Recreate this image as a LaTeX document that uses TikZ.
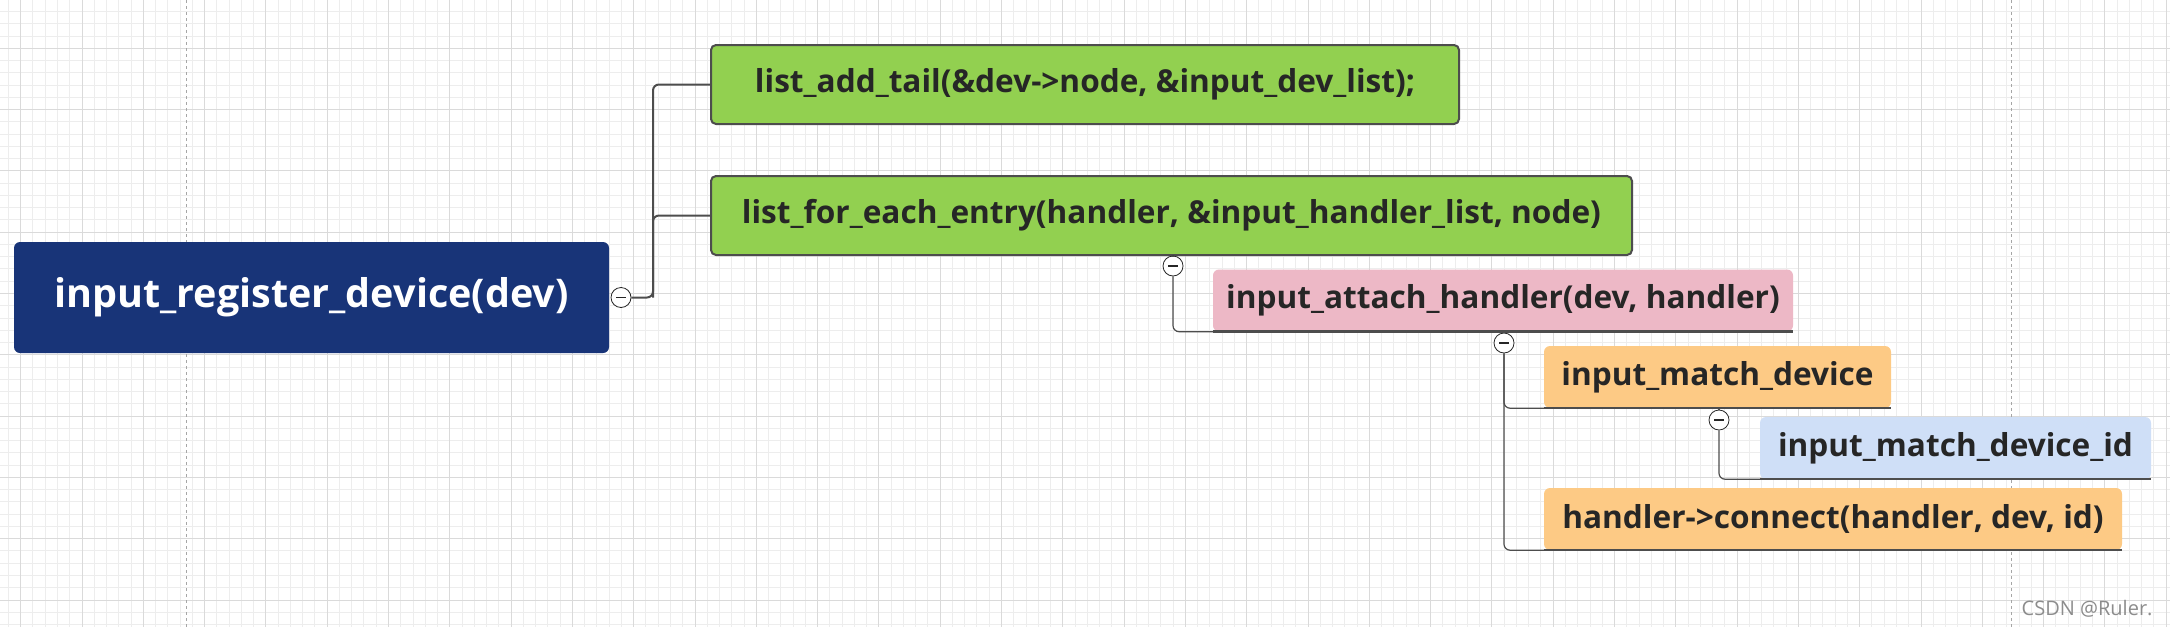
\documentclass[tikz,border=0pt]{standalone}
\usepackage{fontspec}
\setmainfont{Open Sans}
\usetikzlibrary{positioning}

\definecolor{navy}{HTML}{183478}
\definecolor{leafgreen}{HTML}{92D050}
\definecolor{leafpink}{HTML}{EDB8C6}
\definecolor{leaforange}{HTML}{FDCA85}
\definecolor{leafblue}{HTML}{CFDFF7}
\definecolor{edge}{HTML}{4D4D4D}
\definecolor{ink}{HTML}{262626}
\definecolor{gridminor}{HTML}{EDEDED}
\definecolor{gridmajor}{HTML}{DADADA}

\newcommand\rootfont{\fontsize{39.5}{46}\selectfont\bfseries}
\newcommand\boxfont{\fontsize{31.6}{37}\selectfont\bfseries}

\begin{document}
\begin{tikzpicture}[x=1pt,y=-1pt,
			rootbox/.style={rectangle,rounded corners=6pt,fill=navy,text=white,font=\rootfont,minimum width=595pt,minimum height=111pt,inner sep=0},
			greenbox/.style={rectangle,rounded corners=5pt,draw=edge,line width=2pt,fill=leafgreen,text=ink,font=\boxfont,minimum height=79pt,inner sep=0},
			leafbox/.style={rectangle,rounded corners=6pt,text=ink,font=\boxfont,minimum height=62pt,inner sep=0},
			knob/.style={circle,draw=black!85,fill=white,line width=0.8pt,minimum size=20pt,inner sep=0,
				path picture={\draw[line width=1.4pt] ([xshift=-5pt]path picture bounding box.center) -- ([xshift=5pt]path picture bounding box.center);}},
			conn/.style={draw=edge,line width=1.2pt,rounded corners=6pt},
			uline/.style={draw=edge,line width=2.5pt}
		]
		% paper and grid
		\fill[white] (0,0) rectangle (2170,627);
		\useasboundingbox (0,0) rectangle (2170,627);
		\foreach \i in {0,...,178} \draw[gridminor,line width=1pt] (8.44+12.26*\i,0) -- (8.44+12.26*\i,627);
		\foreach \i in {0,...,52} \draw[gridminor,line width=1pt] (0,-0.74+12.26*\i) -- (2170,-0.74+12.26*\i);
		\foreach \i in {0,...,35} \draw[gridmajor,line width=1pt] (20.7+61.3*\i,0) -- (20.7+61.3*\i,627);
		\foreach \i in {0,...,9} \draw[gridmajor,line width=1pt] (0,48.3+61.3*\i) -- (2170,48.3+61.3*\i);
		\draw[black!35,dashed,line width=1pt] (186.3,0) -- (186.3,627);
		\draw[black!35,dashed,line width=1pt] (2011,0) -- (2011,627);

		% boxes
		\node[rootbox]                                     (R)  at (311.5,297.5) {input\_register\_device(dev)};
		\node[greenbox,minimum width=748pt]                (G1) at (1085,84.5)   {list\_add\_tail(\&dev->node, \&input\_dev\_list);};
		\node[greenbox,minimum width=921pt]                (G2) at (1171.5,215.5) {list\_for\_each\_entry(handler, \&input\_handler\_list, node)};
		\node[leafbox,fill=leafpink,minimum width=580pt]   (P)  at (1503,300.5)  {input\_attach\_handler(dev, handler)};
		\node[leafbox,fill=leaforange,minimum width=347pt] (O1) at (1717.5,377)  {input\_match\_device};
		\node[leafbox,fill=leafblue,minimum width=391pt]   (B)  at (1955.5,448)  {input\_match\_device\_id};
		\node[leafbox,fill=leaforange,minimum width=578pt] (O2) at (1833,519)    {handler->connect(handler, dev, id)};
		\draw[uline] (P.south west) -- (P.south east);
		\draw[uline] (O1.south west) -- (O1.south east);
		\draw[uline] (B.south west) -- (B.south east);
		\draw[uline] (O2.south west) -- (O2.south east);

		% collapse knobs
		\node[knob] (k0) at (621,297.5) {};
		\node[knob] (k1) at (1173,266)  {};
		\node[knob] (k2) at (1504,343)  {};
		\node[knob] (k3) at (1719,420)  {};
		\coordinate (j0) at (653,297.5);

		% connectors
		\draw[conn,line width=2pt] (k0.east) -- (j0) |- (G1.west);
		\draw[conn,line width=2pt] (j0) |- (G2.west);
		\draw[conn] (G2.south -| k1) -- (k1.north);
		\draw[conn] (k1.south) |- (P.south west);
		\draw[conn] (P.south -| k2) -- (k2.north);
		\draw[conn] (k2.south) |- (O1.south west);
		\draw[conn] (k2.south) |- (O2.south west);
		\draw[conn] (O1.south -| k3) -- (k3.north);
		\draw[conn] (k3.south) |- (B.south west);

		\node[anchor=south east,text=black!45,font=\fontsize{20}{24}\selectfont] (W) at (2156,621) {CSDN @Ruler.};
	\end{tikzpicture}
\end{document}
